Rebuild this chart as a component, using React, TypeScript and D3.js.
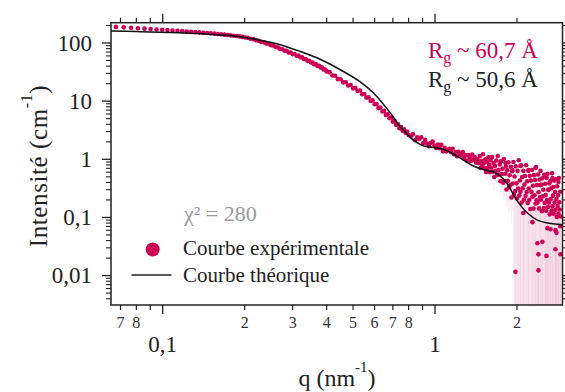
import React from 'react';
import * as d3 from 'd3';

// ---------- Experimental SAXS curve (q in nm^-1, I in cm^-1) ----------
const qLow = [
  0.0673, 0.0719, 0.0765, 0.0811, 0.0857, 0.0903, 0.0949, 0.0995, 0.1041, 0.1087,
  0.1133, 0.1179, 0.1225, 0.1271, 0.1317, 0.1363, 0.1409, 0.1455, 0.1501, 0.1547,
  0.1593, 0.1639, 0.1685, 0.1731, 0.1777, 0.1823, 0.1869, 0.1915, 0.1961, 0.2007,
  0.205, 0.21, 0.215, 0.22, 0.225, 0.23, 0.235, 0.24, 0.245, 0.25,
  0.255, 0.26, 0.265, 0.27, 0.275, 0.28, 0.285, 0.29, 0.295, 0.3,
  0.305, 0.31, 0.315, 0.32, 0.325, 0.33, 0.335, 0.34, 0.345, 0.35,
  0.355, 0.36, 0.365, 0.37, 0.375, 0.38, 0.385, 0.39, 0.395, 0.4,
  0.41, 0.42, 0.43, 0.44, 0.45, 0.46, 0.47, 0.48, 0.49, 0.5,
  0.51, 0.52, 0.53, 0.54, 0.55, 0.56, 0.57, 0.58, 0.59, 0.6,
  0.61, 0.62, 0.63, 0.64, 0.65, 0.66, 0.67, 0.68, 0.69, 0.7,
  0.71, 0.72, 0.73, 0.74, 0.75, 0.76, 0.77, 0.78, 0.79, 0.8,
  0.815, 0.83, 0.845, 0.86, 0.875, 0.89, 0.905, 0.92, 0.935, 0.95,
  0.965, 0.98, 0.995, 1.01, 1.025, 1.04, 1.055, 1.07, 1.085, 1.1,
  1.115, 1.13, 1.145, 1.16, 1.175, 1.19, 1.205, 1.22, 1.235, 1.25,
  1.265, 1.28, 1.295, 1.31, 1.325, 1.34, 1.355, 1.37, 1.385, 1.4,
  1.415, 1.43, 1.445,
];
const iLow = [
  189, 186, 183, 179.5, 176.5, 174, 171, 168.7, 166.5, 164.3,
  162.1, 160, 158, 156, 154, 152, 150.2, 148.4, 146.6, 144.8,
  143, 141.2, 139.3, 137.4, 135.5, 133.6, 131.7, 129.8, 127.3, 124.6,
  123.0, 118.0, 116.6, 111.2, 109.6, 104.2, 103.0, 97.9, 96.6, 91.5,
  90.2, 85.2, 83.9, 78.9, 78.3, 73.4, 73.2, 68.8, 68.6, 64.4,
  64.5, 60.5, 60.7, 57.0, 56.8, 53.0, 52.9, 49.3, 49.4, 46.1,
  46.2, 43.1, 43.3, 40.4, 40.6, 37.9, 37.8, 35.0, 35.1, 32.5,
  31.5, 27.6, 27.4, 23.9, 23.8, 21.0, 21.1, 18.6, 18.9, 16.6,
  16.9, 14.9, 15.2, 13.2, 13.3, 11.5, 11.7, 10.1, 10.3, 8.85,
  8.95, 7.65, 7.78, 6.65, 6.8, 5.8, 5.95, 5.08, 5.22, 4.45,
  4.58, 3.9, 4.02, 3.42, 3.58, 3.1, 3.28, 2.85, 3.01, 2.62,
  2.49, 2.7, 2.12, 2.38, 2.23, 2.39, 1.9, 2.16, 1.87, 1.68,
  1.91, 2.01, 1.73, 1.57, 1.79, 1.55, 1.78, 1.37, 1.57, 1.36,
  1.44, 1.52, 1.33, 1.52, 1.22, 1.35, 1.13, 1.35, 1.24, 1.16,
  1.33, 1.07, 1.18, 0.95, 1.18, 1.07, 0.935, 1.21, 0.977, 1.08,
  0.87, 1.0, 0.877,
];

const qHigh = [
  1.45, 1.46, 1.47, 1.48, 1.49, 1.5, 1.51, 1.52, 1.53, 1.54,
  1.55, 1.56, 1.57, 1.58, 1.59, 1.6, 1.61, 1.62, 1.63, 1.64,
  1.65, 1.66, 1.67, 1.68, 1.69, 1.7, 1.71, 1.72, 1.73, 1.74,
  1.75, 1.76, 1.77, 1.78, 1.79, 1.8, 1.81, 1.82, 1.83, 1.84,
  1.85, 1.86, 1.87, 1.88, 1.89, 1.9, 1.91, 1.92, 1.93, 1.94,
  1.95, 1.96, 1.97, 1.98, 1.99, 2.0, 2.01, 2.02, 2.03, 2.04,
  2.05, 2.06, 2.07, 2.08, 2.09, 2.1, 2.11, 2.12, 2.13, 2.14,
  2.15, 2.16, 2.17, 2.18, 2.19, 2.2, 2.21, 2.22, 2.23, 2.24,
  2.25, 2.26, 2.27, 2.28, 2.29, 2.3, 2.31, 2.32, 2.33, 2.34,
  2.35, 2.36, 2.37, 2.38, 2.39, 2.4, 2.41, 2.42, 2.43, 2.44,
  2.45, 2.46, 2.47, 2.48, 2.49, 2.5, 2.51, 2.52, 2.53, 2.54,
  2.55, 2.56, 2.57, 2.58, 2.59, 2.6, 2.61, 2.62, 2.63, 2.64,
  2.65, 2.66, 2.67, 2.68, 2.69, 2.7, 2.71, 2.72, 2.73, 2.74,
  2.75, 2.76, 2.77, 2.78, 2.79, 2.8, 2.81, 2.82, 2.83, 2.84,
  2.85, 2.86, 2.87, 2.88, 2.89,
];
const iHigh = [
  0.859, 1.135, 0.708, 0.942, 0.76, 1.224, 0.851, 0.7, 1.0, 0.604,
  0.906, 0.708, 1.083, 0.81, 0.6, 0.973, 0.719, 1.09, 0.614, 0.863,
  0.495, 0.77, 0.633, 0.953, 0.534, 1.14, 0.651, 0.546, 0.813, 0.421,
  0.935, 0.558, 0.686, 0.396, 1.01, 0.423, 0.565, 0.76, 0.303, 0.651,
  0.428, 0.891, 0.33, 0.53, 0.361, 0.743, 0.22, 0.621, 0.384, 0.898,
  0.249, 0.507, 0.284, 0.757, 0.386, 0.212, 0.631, 0.315, 0.961, 0.238,
  0.433, 0.277, 0.785, 0.18, 0.497, 0.318, 0.633, 0.202, 0.369, 0.517,
  0.234, 0.788, 0.273, 0.419, 0.178, 0.635, 0.314, 0.201, 0.519, 0.139,
  0.43, 0.275, 0.654, 0.228, 0.35, 0.142, 0.534, 0.241, 0.441, 0.174,
  0.734, 0.197, 0.36, 0.18, 0.549, 0.271, 0.143, 0.45, 0.222, 0.631,
  0.201, 0.367, 0.128, 0.47, 0.232, 0.299, 0.145, 0.543, 0.178, 0.379,
  0.242, 0.13, 0.48, 0.2, 0.565, 0.151, 0.303, 0.18, 0.386, 0.113,
  0.418, 0.206, 0.318, 0.131, 0.575, 0.155, 0.237, 0.334, 0.116, 0.43,
  0.18, 0.274, 0.135, 0.455, 0.207, 0.102, 0.344, 0.157, 0.24, 0.117,
  0.476, 0.183, 0.137, 0.277, 0.104,
];
const sigmaHigh = [
  0.26, 0.34, 0.21, 0.28, 0.23, 0.37, 0.26, 0.21, 0.3, 0.18,
  0.36, 0.28, 0.43, 0.32, 0.24, 0.39, 0.29, 0.44, 0.25, 0.35,
  0.2, 0.31, 0.25, 0.38, 0.21, 0.46, 0.26, 0.22, 0.33, 0.17,
  0.47, 0.28, 0.34, 0.2, 0.5, 0.21, 0.28, 0.38, 0.15, 0.33,
  0.28, 0.58, 0.21, 0.34, 0.23, 0.48, 0.14, 0.4, 0.25, 0.58,
  0.3, 0.58, 0.33, 0.85, 0.47, 0.27, 0.72, 0.38, 1.05, 0.29,
  0.52, 0.33, 0.88, 0.23, 0.58, 0.38, 0.73, 0.25, 0.44, 0.6,
  0.28, 0.9, 0.33, 0.5, 0.22, 0.74, 0.37, 0.25, 0.61, 0.18,
  0.51, 0.33, 0.76, 0.28, 0.42, 0.18, 0.62, 0.29, 0.52, 0.21,
  0.85, 0.24, 0.43, 0.22, 0.64, 0.33, 0.18, 0.53, 0.27, 0.73,
  0.24, 0.44, 0.16, 0.55, 0.28, 0.36, 0.18, 0.63, 0.22, 0.45,
  0.29, 0.16, 0.56, 0.24, 0.66, 0.19, 0.36, 0.22, 0.46, 0.14,
  0.49, 0.25, 0.38, 0.16, 0.67, 0.19, 0.29, 0.4, 0.14, 0.51,
  0.22, 0.33, 0.17, 0.53, 0.25, 0.13, 0.41, 0.19, 0.29, 0.14,
  0.56, 0.22, 0.17, 0.33, 0.13,
];

// additional experimental points (upper band and low outliers)
const qExtra = [
  1.348, 1.597, 1.739, 1.814, 1.924, 2.059, 2.203, 2.338, 2.438, 2.544,
  2.609, 2.7, 2.84, 2.111, 2.279, 2.588, 2.769, 2.888, 2.654, 2.793,
  2.377, 2.48, 2.398, 2.566, 2.769, 2.888, 1.974, 2.398,
];
const iExtra = [
  0.973, 1.05, 0.898, 0.863, 0.654, 0.766, 0.654, 0.708, 0.36, 0.536,
  0.296, 0.476, 0.406, 0.119, 0.083, 0.0654, 0.0604, 0.0708, 0.0628, 0.0543,
  0.036, 0.038, 0.0233, 0.0218, 0.0284, 0.0233, 0.0116, 0.0123,
];
const sigmaExtra = [
  0.3, 0.4, 0.4, 0.45, 0.4, 0.85, 0.75, 0.8, 0.42, 0.62,
  0.35, 0.55, 0.47, 0.15, 0.1, 0.08, 0.08, 0.09, 0.08, 0.07,
  0.05, 0.05, 0.03, 0.03, 0.04, 0.03, 0.015, 0.015,
];

// ---------- Theoretical curve ----------
const qTheory = [
  0.0646, 0.08, 0.0977, 0.115, 0.1371, 0.1624, 0.1924, 0.2279, 0.27, 0.3198,
  0.3788, 0.4486, 0.5313, 0.5932, 0.685, 0.7455, 0.7646, 0.832, 0.906, 0.9857,
  1.073, 1.168, 1.27, 1.383, 1.505, 1.638, 1.739, 1.845, 2.007, 2.185,
  2.377, 2.588, 2.84, 2.94,
];
const iTheory = [
  161, 157.5, 153.5, 149.5, 144.6, 137.5, 128.5, 111.7, 93.5, 71.5,
  52.5, 34.7, 21.5, 13.9, 6.28, 3.6, 3.2, 2.15, 1.7, 1.6,
  1.48, 1.23, 0.973, 0.766, 0.667, 0.604, 0.515, 0.375, 0.191, 0.119,
  0.09, 0.08, 0.0766, 0.075,
];

// ---------- Axis ticks ----------
const xMajorTicks = [0.1, 1];
const xMajorLabels = ['0,1', '1'];
const xMinorTicks = [0.07, 0.08, 0.09, 0.2, 0.3, 0.4, 0.5, 0.6, 0.7, 0.8, 0.9, 2];
const xMinorLabels = ['7', '8', '', '2', '3', '4', '5', '6', '7', '8', '', '2'];
const yMajorTicks = [0.01, 0.1, 1, 10, 100];
const yMajorLabels = ['0,01', '0,1', '1', '10', '100'];

const seriesNames = ['Courbe expérimentale', 'Courbe théorique'];
const chiText = 'χ² = 280';
const rgExp = '60,7';
const rgTheo = '50,6';

const F = 'Liberation Serif';

export default function App() {
  const W = 565;
  const H = 392;
  const left = 111;
  const right = 562.5;
  const top = 22.7;
  const bottom = 305;
  const x = d3.scaleLog().domain([0.06457, 2.939]).range([left, right]);
  const y = d3.scaleLog().domain([0.00312, 223.4]).range([bottom, top]);
  const pink = '#cc0055';

  const lowPts = qLow.map((q, i) => ({ q, v: iLow[i] }));
  const highPts = qHigh.map((q, i) => ({ q, v: iHigh[i], s: sigmaHigh[i] }));
  const extraPts = qExtra.map((q, i) => ({ q, v: iExtra[i], s: sigmaExtra[i] }));
  const errPts = [...highPts, ...extraPts];
  const allPts = [...lowPts, ...highPts, ...extraPts];

  const line = d3
    .line<[number, number]>()
    .x((d) => x(d[0]))
    .y((d) => y(d[1]))
    .curve(d3.curveCatmullRom.alpha(0.5));
  const theoryPath = line(qTheory.map((q, i) => [q, iTheory[i]] as [number, number])) || '';

  const yMinor = y
    .ticks()
    .filter((t) => Math.abs(Math.log10(t) - Math.round(Math.log10(t))) > 1e-6);

  const majorLen = 9;
  const minorLen = 5;

  return (
    <svg width={W} height={H} style={{ position: 'absolute', left: 0, top: 0, background: '#fff' }}>
      <defs>
        <clipPath id="plotClip">
          <rect x={left} y={top} width={right - left} height={bottom - top} />
        </clipPath>
      </defs>
      <rect x={0} y={0} width={W} height={H} fill="#fff" />

      <g clipPath="url(#plotClip)">
        {errPts.map((p, i) => {
          const lo = p.v - p.s;
          const y0 = lo > 0 ? y(lo) : bottom;
          return (
            <line
              key={'e' + i}
              x1={x(p.q)}
              x2={x(p.q)}
              y1={y(p.v)}
              y2={Math.min(y0, bottom)}
              stroke="#e8a3bf"
              strokeOpacity={0.24}
              strokeWidth={0.8}
            />
          );
        })}
        {allPts.map((p, i) => (
          <circle key={'p' + i} cx={x(p.q)} cy={y(p.v)} r={2.3} fill={pink} />
        ))}
        <path d={theoryPath} fill="none" stroke="#111" strokeWidth={1.5} />
      </g>

      <rect
        x={left}
        y={top}
        width={right - left}
        height={bottom - top}
        fill="none"
        stroke="#222"
        strokeWidth={1.5}
      />

      {xMajorTicks.map((t, i) => (
        <g key={'xM' + i}>
          <line x1={x(t)} x2={x(t)} y1={bottom} y2={bottom + majorLen} stroke="#222" strokeWidth={1.3} />
          <line x1={x(t)} x2={x(t)} y1={top} y2={top - majorLen} stroke="#222" strokeWidth={1.3} />
          <text x={x(t)} y={352} fontSize={23} fontFamily={F} textAnchor="middle" fill="#222">
            {xMajorLabels[i]}
          </text>
        </g>
      ))}
      {xMinorTicks.map((t, i) => (
        <g key={'xm' + i}>
          <line x1={x(t)} x2={x(t)} y1={bottom} y2={bottom + minorLen} stroke="#222" strokeWidth={1.2} />
          <line x1={x(t)} x2={x(t)} y1={top} y2={top - minorLen} stroke="#222" strokeWidth={1.2} />
          {xMinorLabels[i] && (
            <text x={x(t)} y={328} fontSize={16} fontFamily={F} textAnchor="middle" fill="#333">
              {xMinorLabels[i]}
            </text>
          )}
        </g>
      ))}

      {yMajorTicks.map((t, i) => (
        <g key={'yM' + i}>
          <line x1={left} x2={left - majorLen} y1={y(t)} y2={y(t)} stroke="#222" strokeWidth={1.3} />
          <line x1={right} x2={right + majorLen} y1={y(t)} y2={y(t)} stroke="#222" strokeWidth={1.3} />
          <text x={92} y={y(t)} dy="0.34em" fontSize={23} fontFamily={F} textAnchor="end" fill="#222">
            {yMajorLabels[i]}
          </text>
        </g>
      ))}
      {yMinor.map((t, i) => (
        <g key={'ym' + i}>
          <line x1={left} x2={left - minorLen} y1={y(t)} y2={y(t)} stroke="#222" strokeWidth={1.1} />
          <line x1={right} x2={right + minorLen} y1={y(t)} y2={y(t)} stroke="#222" strokeWidth={1.1} />
        </g>
      ))}

      <text x={337} y={386} fontSize={24} fontFamily={F} textAnchor="middle" fill="#222">
        q (nm
        <tspan fontSize={15} dy={-14}>-1</tspan>
        <tspan dy={14}>)</tspan>
      </text>
      <text
        transform="translate(47,166) rotate(-90)"
        fontSize={25}
        fontFamily={F}
        letterSpacing={0.6}
        textAnchor="middle"
        fill="#222"
      >
        Intensité (cm
        <tspan fontSize={16} dy={-15}>-1</tspan>
        <tspan dy={15}>)</tspan>
      </text>

      <text x={428} y={58} fontSize={23} fontFamily={F} fill={pink}>
        R<tspan fontSize={16} dy={5}>g</tspan>
        <tspan dy={-5}> ~ {rgExp} Å</tspan>
      </text>
      <text x={428} y={87} fontSize={23} fontFamily={F} fill="#222">
        R<tspan fontSize={16} dy={5}>g</tspan>
        <tspan dy={-5}> ~ {rgTheo} Å</tspan>
      </text>

      <text x={184} y={221} fontSize={22} fontFamily={F} fill="#999">
        {chiText}
      </text>
      <circle cx={152.7} cy={249.5} r={7} fill={pink} />
      <text x={183} y={255} fontSize={21} fontFamily={F} fill="#222">
        {seriesNames[0]}
      </text>
      <line x1={131.5} x2={171.5} y1={275} y2={275} stroke="#222" strokeWidth={1.5} />
      <text x={183} y={281.5} fontSize={21} fontFamily={F} fill="#222">
        {seriesNames[1]}
      </text>
    </svg>
  );
}
